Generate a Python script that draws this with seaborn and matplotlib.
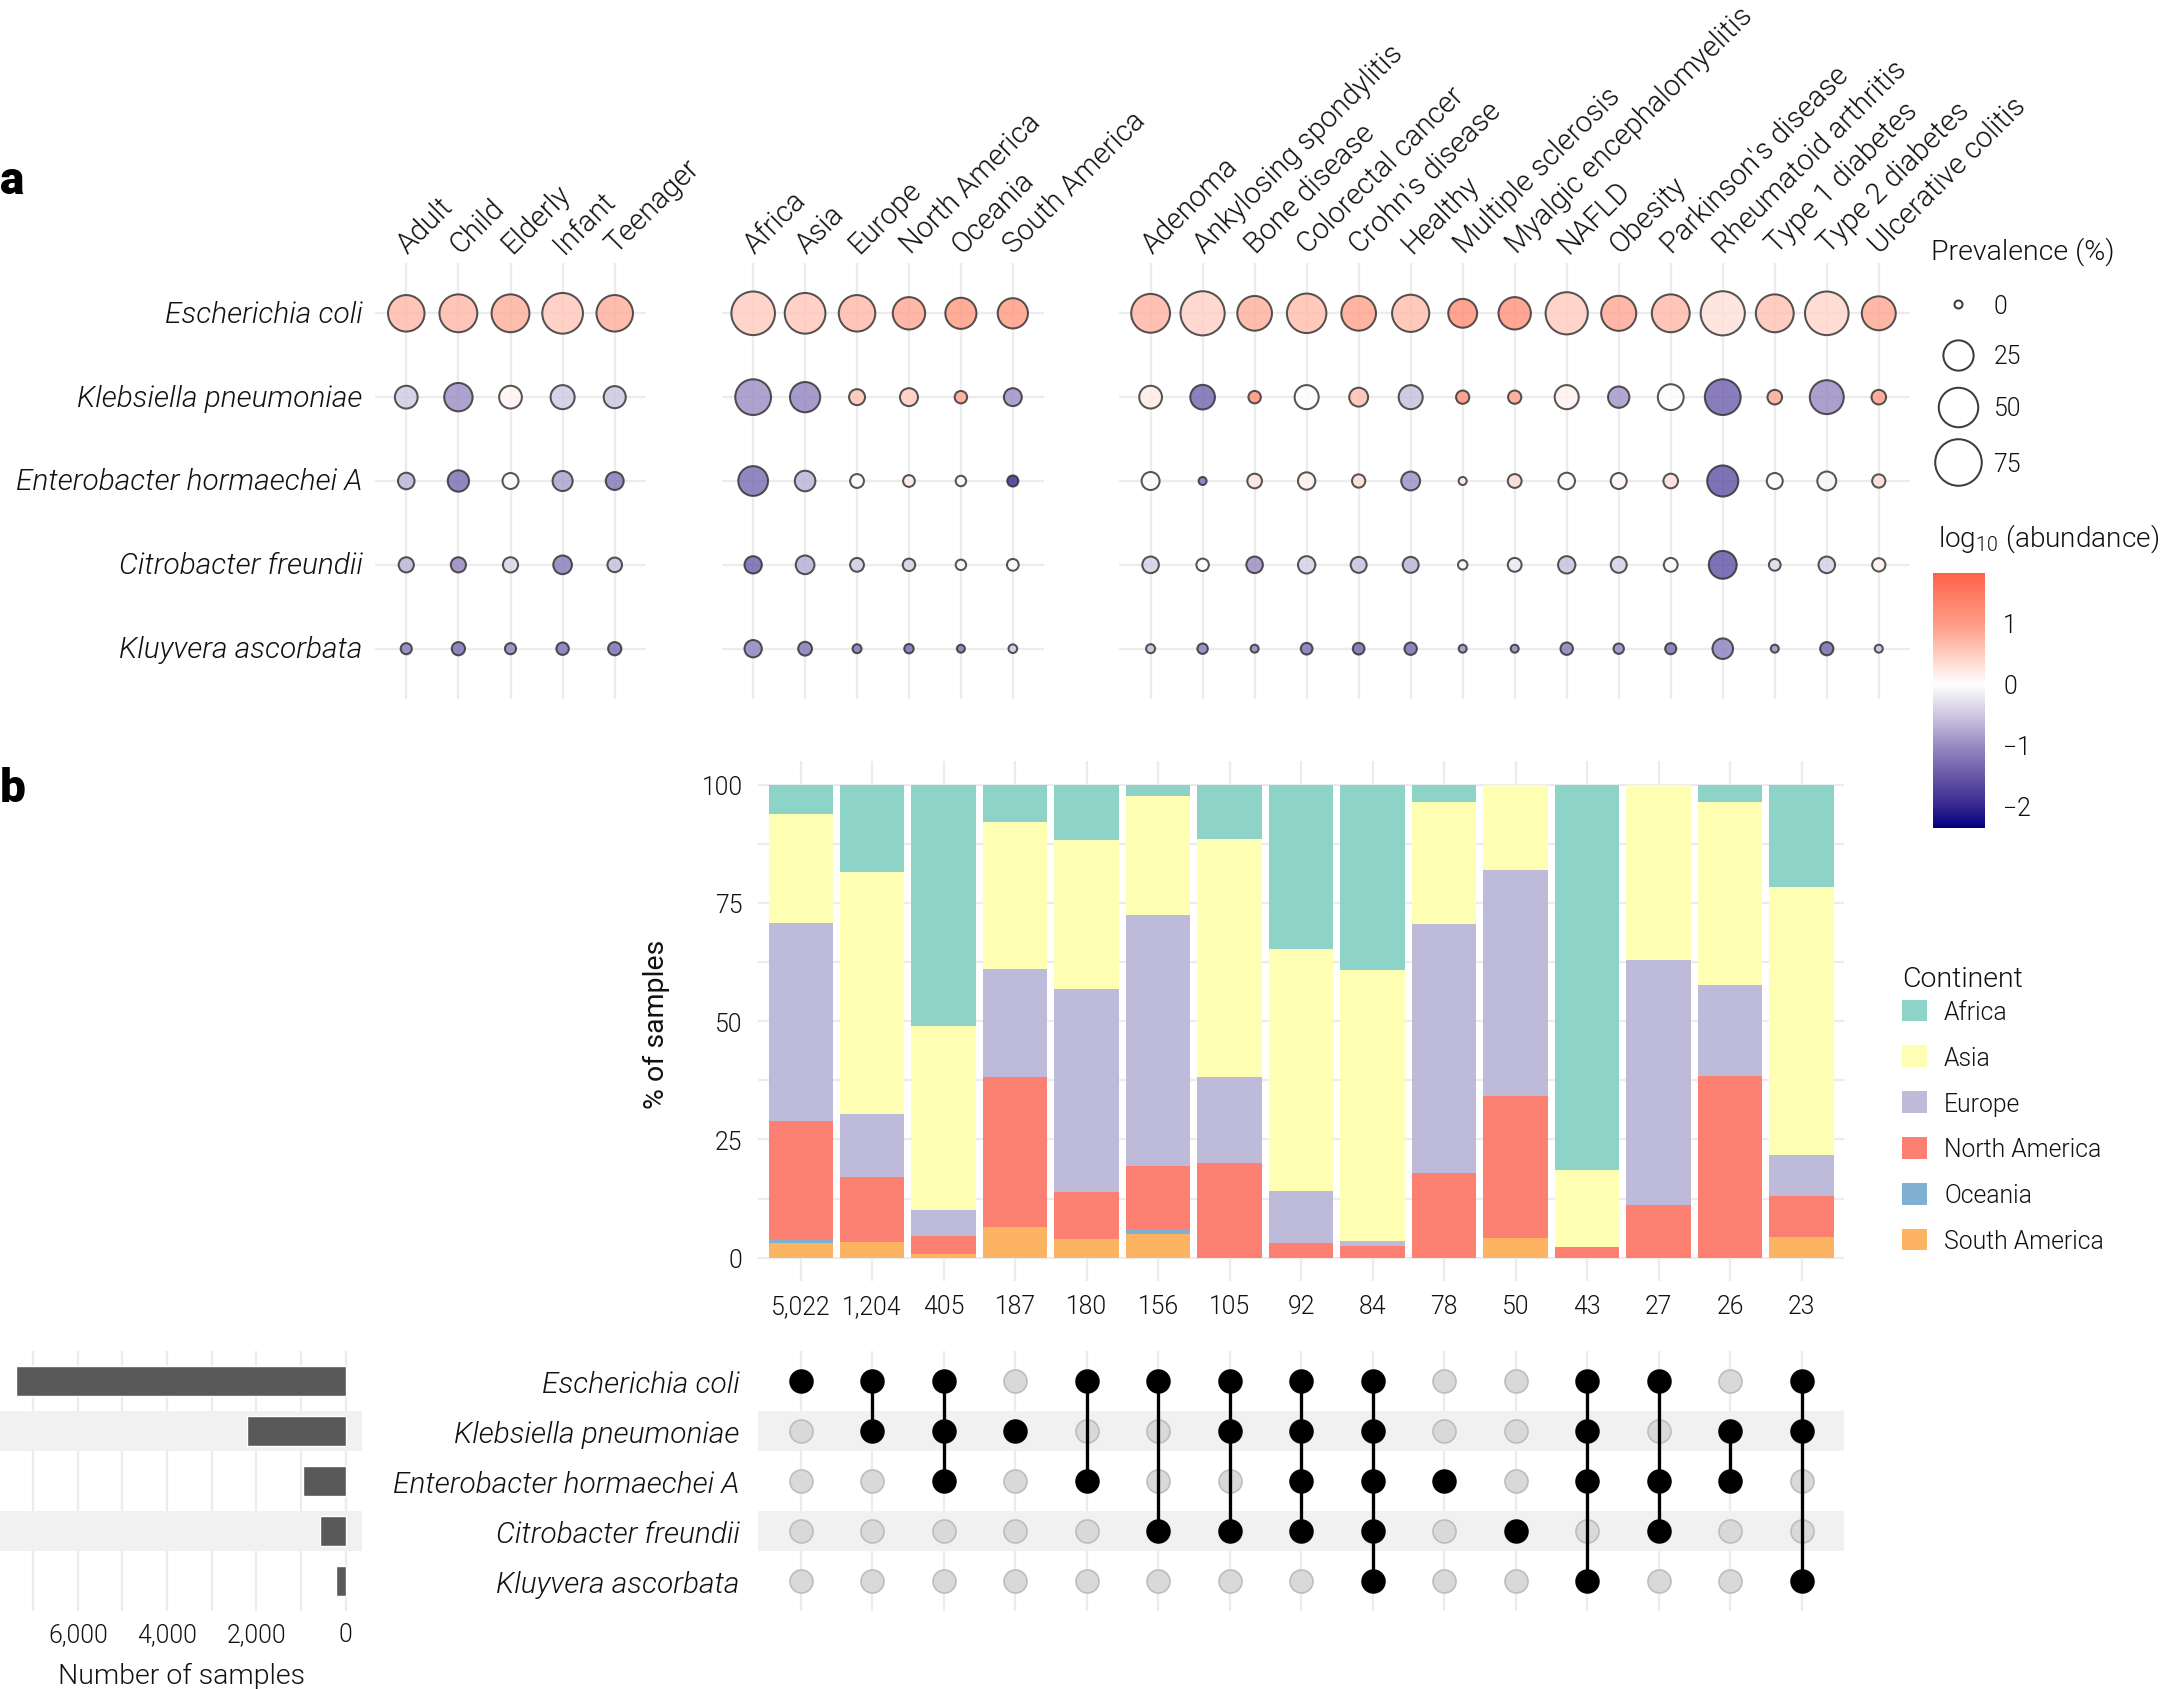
import numpy as np
import pandas as pd
import matplotlib
matplotlib.use("Agg")
import matplotlib.pyplot as plt
from matplotlib.colors import LinearSegmentedColormap, Normalize
from matplotlib.cm import ScalarMappable
from matplotlib.patches import Patch
from matplotlib.transforms import ScaledTranslation
import seaborn as sns

W, H = 2165, 1690
DPI = 100
PT = 72 / DPI

SPECIES = ["Escherichia coli", "Klebsiella pneumoniae", "Enterobacter hormaechei A",
           "Citrobacter freundii", "Kluyvera ascorbata"]
AGES = ["Adult", "Child", "Elderly", "Infant", "Teenager"]
CONTINENTS = ["Africa", "Asia", "Europe", "North America", "Oceania", "South America"]
DISEASES = ["Adenoma", "Ankylosing spondylitis", "Bone disease", "Colorectal cancer",
            "Crohn's disease", "Healthy", "Multiple sclerosis", "Myalgic encephalomyelitis",
            "NAFLD", "Obesity", "Parkinson's disease", "Rheumatoid arthritis",
            "Type 1 diabetes", "Type 2 diabetes", "Ulcerative colitis"]

PREV_AGE = [[41, 45, 45, 54, 41],
            [11, 21, 11, 13, 10],
            [3.7, 9, 3.2, 7.4, 5],
            [2.6, 2.6, 2.6, 5.8, 2.2],
            [0.5, 1.4, 0.5, 1, 1.4]]
LOG_AGE = [[0.7, 0.7, 0.8, 0.55, 0.8],
           [-0.5, -1.0, 0.1, -0.5, -0.55],
           [-0.7, -1.35, 0.05, -0.85, -1.25],
           [-0.7, -1.1, -0.4, -1.2, -0.6],
           [-1.2, -1.35, -1.15, -1.3, -1.35]]

PREV_CONT = [[64, 54, 41, 30, 27, 25],
             [39, 25, 3.2, 5, 1, 5],
             [24, 8, 1.7, 0.7, 0.3, 0.5],
             [4.4, 5.8, 1.7, 1, 0.3, 0.7],
             [4.4, 1.7, 0.05, 0.1, 0, 0.02]]
LOG_CONT = [[0.5, 0.55, 0.7, 0.85, 1.05, 1.05],
            [-1.0, -1.1, 0.6, 0.5, 0.9, -1.0],
            [-1.35, -0.7, 0.0, 0.2, -0.05, -2.0],
            [-1.45, -0.75, -0.5, -0.45, -0.1, -0.05],
            [-1.15, -1.25, -1.3, -1.35, -1.3, -0.5]]

PREV_DIS = [[48, 66, 36, 50, 36, 43, 22, 30, 59, 37, 45, 66, 45, 64, 34],
            [11, 14, 1, 13, 6, 13, 1.4, 1.4, 13, 9, 16, 39, 2.2, 34, 2.2],
            [5, 0, 2.2, 4.4, 1.4, 6, 0, 1.7, 3.7, 3.2, 2.2, 27, 3.2, 6, 1.4],
            [3.7, 1, 3.7, 4.4, 3.2, 3.2, 0.1, 1.7, 4.4, 3.2, 1.7, 20, 0.7, 3.7, 1.4],
            [0.05, 0.3, 0, 0.7, 0.7, 1, 0, 0, 1, 0.3, 0.5, 8, 0, 1.4, 0]]
LOG_DIS = [[0.75, 0.45, 0.8, 0.65, 0.9, 0.65, 1.2, 1.15, 0.5, 0.85, 0.7, 0.3, 0.6, 0.4, 0.85],
           [0.2, -1.4, 1.2, -0.03, 0.65, -0.6, 1.2, 0.9, 0.12, -0.95, -0.02, -1.45, 0.85, -1.05, 1.0],
           [0.05, -1.3, 0.25, 0.15, 0.35, -1.0, 0.2, 0.35, 0.03, 0.08, 0.3, -1.6, -0.03, -0.1, 0.35],
           [-0.45, -0.02, -1.05, -0.45, -0.6, -0.7, -0.05, -0.2, -0.6, -0.45, -0.05, -1.6, -0.35, -0.45, 0.1],
           [-0.6, -1.2, -1.1, -1.3, -1.4, -1.35, -1.0, -1.1, -1.2, -1.1, -1.35, -1.15, -1.0, -1.4, -0.6]]

LOG_STOPS = [-2.36, -2.0, -1.0, -0.5, 0.0, 0.9, 1.81]
LOG_COLORS = ["#000080", "#37278f", "#9a8cc4", "#cfc9e3", "#ffffff", "#ffa28c", "#ff6347"]
PREV_LEGEND = [0, 25, 50, 75]

SET_SIZES = ["5,022", "1,204", "405", "187", "180", "156", "105", "92", "84", "78", "50", "43", "27", "26", "23"]
PCT_AFRICA = [6.3, 18.5, 51.1, 7.9, 11.6, 2.5, 11.4, 34.7, 39.2, 3.7, 0, 81.4, 0, 3.7, 21.6]
PCT_ASIA = [23.0, 51.2, 38.9, 31.1, 31.7, 25.1, 50.5, 51.3, 57.2, 25.8, 18.0, 16.3, 37.1, 38.7, 56.7]
PCT_EUROPE = [41.9, 13.3, 5.4, 22.9, 42.8, 53.1, 18.1, 10.8, 1.2, 52.5, 47.9, 0, 51.7, 19.1, 8.7]
PCT_NAMERICA = [24.8, 13.7, 3.6, 31.6, 10.0, 13.4, 20.0, 3.2, 2.4, 18.0, 30.0, 2.3, 11.2, 38.5, 8.6]
PCT_OCEANIA = [0.9, 0, 0.3, 0, 0, 0.8, 0, 0, 0, 0, 0, 0, 0, 0, 0]
PCT_SAMERICA = [3.1, 3.3, 0.7, 6.5, 3.9, 5.1, 0, 0, 0, 0, 4.1, 0, 0, 0, 4.4]
CONT_COLORS = ["#8dd3c7", "#ffffb3", "#bebada", "#fb8072", "#80b1d3", "#fdb462"]

SPECIES_TOTALS = [7384, 2215, 956, 574, 215]
MEMBERSHIP = [[0], [0, 1], [0, 1, 2], [1], [0, 2], [0, 3], [0, 1, 3], [0, 1, 2, 3],
              [0, 1, 2, 3, 4], [2], [3], [0, 1, 2, 4], [0, 2, 3], [1, 2], [0, 1, 4]]

sns.set_theme(style="whitegrid", rc={"grid.color": "#ececec", "grid.linewidth": 1.6,
                                     "axes.edgecolor": "none", "axes.linewidth": 0})
FONT = "Roboto"
plt.rcParams["font.family"] = [FONT, "DejaVu Sans"]
plt.rcParams["font.weight"] = 300
plt.rcParams["mathtext.fontset"] = "custom"
plt.rcParams["mathtext.rm"] = FONT
plt.rcParams["mathtext.default"] = "regular"
TXT = "#111111"
FS_SPECIES = 21.5
FS_COLUMN = 20.9
FS_LABEL = 20.5
FS_TICK = 17.8

fig = plt.figure(figsize=(W / DPI, H / DPI), dpi=DPI, facecolor="white")


def box(x0, y0, x1, y1, **kw):
    return fig.add_axes([x0 / W, 1 - y1 / H, (x1 - x0) / W, (y1 - y0) / H], **kw)


def nudge(labels, dx_px, dy_px):
    off = ScaledTranslation(dx_px / DPI, -dy_px / DPI, fig.dpi_scale_trans)
    for t in labels:
        t.set_transform(t.get_transform() + off)


def diameter_px(p):
    return 10 + 4.45 * np.sqrt(np.asarray(p, float))


def marker_area(p):
    return ((diameter_px(p) - 2.0) * PT) ** 2


cmap = LinearSegmentedColormap.from_list(
    "abund", [((s - LOG_STOPS[0]) / (LOG_STOPS[-1] - LOG_STOPS[0]), c) for s, c in zip(LOG_STOPS, LOG_COLORS)])
norm = Normalize(LOG_STOPS[0], LOG_STOPS[-1])


def bubble_panel(ax, labels, prev, logs, show_y):
    n = len(labels)
    xx, yy = np.meshgrid(range(n), range(5))
    d = pd.DataFrame({"col": xx.ravel(), "row": yy.ravel(),
                      "prev": np.ravel(prev), "log": np.ravel(logs)})
    d["area"] = marker_area(d["prev"])
    lim = (marker_area(0), marker_area(100))
    sns.scatterplot(data=d, x="col", y="row", hue="log", hue_norm=norm, palette=cmap,
                    size="area", sizes=lim, size_norm=lim, alpha=0.8,
                    edgecolor="#2b2b2b", linewidth=1.45, legend=False, ax=ax, zorder=3, clip_on=False)
    ax.set_xlim(-0.6, n - 0.4)
    ax.set_ylim(4.6, -0.6)
    ax.set_xticks(range(n))
    ax.set_xticklabels(labels)
    ax.xaxis.tick_top()
    ax.tick_params(axis="x", length=0, pad=10, labelsize=FS_COLUMN, labelcolor=TXT)
    plt.setp(ax.get_xticklabels(), rotation=45, ha="left", va="center", rotation_mode="anchor")
    nudge(ax.get_xticklabels(), -4, -1)
    ax.set_yticks(range(5))
    if show_y:
        ax.set_yticklabels(SPECIES, style="italic", fontsize=FS_SPECIES, color=TXT)
        ax.tick_params(axis="y", length=0, pad=9)
        nudge(ax.get_yticklabels(), 0, -2.5)
    else:
        ax.set_yticklabels([])
        ax.tick_params(axis="y", length=0)
    ax.set_xlabel("")
    ax.set_ylabel("")
    ax.grid(True)
    ax.set_axisbelow(True)
    for s in ax.spines.values():
        s.set_visible(False)


bubble_panel(box(375, 264, 646, 700), AGES, PREV_AGE, LOG_AGE, True)
bubble_panel(box(722, 264, 1044, 700), CONTINENTS, PREV_CONT, LOG_CONT, False)
bubble_panel(box(1119.4, 264, 1910, 700), DISEASES, PREV_DIS, LOG_DIS, False)

# stacked bars
ax_bar = box(757.8, 762, 1844.4, 1282.3)
n_sets = len(SET_SIZES)
bars = pd.DataFrame({
    "set": np.tile(np.arange(n_sets), 6),
    "Continent": np.repeat(CONTINENTS, n_sets),
    "pct": np.concatenate([PCT_AFRICA, PCT_ASIA, PCT_EUROPE, PCT_NAMERICA, PCT_OCEANIA, PCT_SAMERICA]),
})
sns.histplot(data=bars, x="set", weights="pct", hue="Continent", hue_order=CONTINENTS,
             palette=CONT_COLORS, multiple="stack", discrete=True, shrink=0.9, alpha=1,
             linewidth=0, legend=False, ax=ax_bar)
ax_bar.set_xlim(-0.6, n_sets - 0.4)
ax_bar.set_ylim(-5, 105)
ax_bar.set_xticks(range(n_sets))
ax_bar.set_xticklabels(SET_SIZES, fontsize=FS_TICK, color=TXT)
ax_bar.set_yticks([0, 25, 50, 75, 100])
ax_bar.set_yticks([12.5, 37.5, 62.5, 87.5], minor=True)
ax_bar.tick_params(axis="y", which="major", length=0, pad=11, labelsize=FS_TICK, labelcolor=TXT)
ax_bar.tick_params(axis="y", which="minor", length=0)
ax_bar.tick_params(axis="x", length=0, pad=9)
ax_bar.grid(True, which="both")
ax_bar.set_axisbelow(True)
ax_bar.set_xlabel("")
ax_bar.set_ylabel("% of samples", fontsize=FS_LABEL, color=TXT)
ax_bar.yaxis.set_label_coords((670 - 757.8) / (1844.4 - 757.8), 0.496)

# set matrix
ax_mat = box(757.8, 1352, 1844.4, 1612)
cells = pd.DataFrame([{"set": c, "row": r, "on": r in MEMBERSHIP[c]}
                      for c in range(n_sets) for r in range(5)])
for r in (1, 3):
    ax_mat.axhspan(r - 0.4, r + 0.4, color="#f1f1f1", lw=0, zorder=1)
sns.scatterplot(data=cells[~cells["on"]], x="set", y="row", color="#d9d9d9", edgecolor="#bdbdbd",
                linewidth=1.2, s=(23 * PT) ** 2, legend=False, ax=ax_mat, zorder=2)
sns.lineplot(data=cells[cells["on"]], x="set", y="row", units="set", estimator=None, orient="y",
             color="black", linewidth=3.0 * PT * 1.1, legend=False, ax=ax_mat, zorder=3)
sns.scatterplot(data=cells[cells["on"]], x="set", y="row", color="black", edgecolor="black",
                linewidth=0, s=(24.5 * PT) ** 2, legend=False, ax=ax_mat, zorder=4)
ax_mat.set_xlim(-0.6, n_sets - 0.4)
ax_mat.set_ylim(4.6, -0.6)
ax_mat.set_xticks(range(n_sets))
ax_mat.set_xticklabels([])
ax_mat.set_yticks(range(5))
ax_mat.set_yticklabels(SPECIES, style="italic", fontsize=FS_SPECIES, color=TXT)
nudge(ax_mat.get_yticklabels(), 0, -2.5)
ax_mat.tick_params(axis="both", length=0)
ax_mat.tick_params(axis="y", pad=13)
ax_mat.grid(True, axis="x")
ax_mat.grid(False, axis="y")
ax_mat.set_axisbelow(True)
ax_mat.set_xlabel("")
ax_mat.set_ylabel("")

# species totals
ax_tot = box(0, 1352, 362, 1612)
for r in (1, 3):
    ax_tot.axhspan(r - 0.4, r + 0.4, color="#f1f1f1", lw=0, zorder=1)
sns.barplot(x=SPECIES_TOTALS, y=list(range(5)), orient="h", width=0.6, color="#595959",
            saturation=1, ax=ax_tot, zorder=3)
ax_tot.set_xlim(7742, -365)
ax_tot.set_ylim(4.6, -0.6)
ax_tot.set_xticks([0, 2000, 4000, 6000])
ax_tot.set_xticklabels(["0", "2,000", "4,000", "6,000"], fontsize=FS_TICK, color=TXT)
ax_tot.set_xticks([1000, 3000, 5000, 7000], minor=True)
ax_tot.tick_params(axis="x", which="both", length=0, pad=8)
ax_tot.set_yticks([])
ax_tot.grid(True, axis="x", which="both")
ax_tot.grid(False, axis="y")
ax_tot.set_axisbelow(True)
ax_tot.set_ylabel("")
ax_tot.set_xlabel("")

# overlay in pixel coordinates for the legends and panel letters
lax = box(0, 0, W, H)
lax.set_xlim(0, W)
lax.set_ylim(H, 0)
lax.axis("off")
lax.patch.set_alpha(0)
lax.text(0, 181, "a", fontsize=33, fontweight=900, color="black", va="center")
lax.text(0, 789, "b", fontsize=33, fontweight=900, color="black", va="center")
lax.text(181.8, 1676, "Number of samples", fontsize=FS_LABEL, color=TXT, ha="center", va="center")

lax.text(1931, 251.5, "Prevalence (%)", fontsize=FS_LABEL, color=TXT, va="center")
for lvl, y in zip(PREV_LEGEND, [305, 356, 407.5, 463]):
    lax.scatter([1957.5], [y], s=marker_area(lvl), facecolor="white", edgecolor="#3c3c3c", linewidth=1.45)
    lax.text(1993.5, y + 1.5, str(lvl), fontsize=FS_TICK, color=TXT, va="center")

lax.text(1938, 539, r"log$_{10}$ (abundance)", fontsize=20.2, color=TXT, va="center")
cax = box(1933, 574, 1985, 829)
cb = fig.colorbar(ScalarMappable(norm=norm, cmap=cmap), cax=cax, ticks=[-2, -1, 0, 1])
cb.outline.set_visible(False)
cb.ax.set_yticklabels(["\u22122", "\u22121", "0", "1"], fontsize=FS_TICK, color=TXT)
cb.ax.tick_params(axis="y", direction="in", color="white", width=1.2, length=8, left=True, right=True, pad=13)
cb.ax.grid(False)

leg = fig.legend(handles=[Patch(facecolor=c, edgecolor="none", label=l) for c, l in zip(CONT_COLORS, CONTINENTS)],
                 title="Continent", loc="upper left",
                 bbox_to_anchor=(1902 / W, 1 - 966 / H), frameon=False, fontsize=FS_TICK,
                 title_fontsize=FS_LABEL, handlelength=1.0, handleheight=0.97, labelspacing=0.87,
                 handletextpad=0.7, borderpad=0, borderaxespad=0)
leg._legend_box.align = "left"
leg._legend_box.sep = 5.5
for t in leg.get_texts():
    t.set_color(TXT)
leg.get_title().set_color(TXT)

fig.savefig("out.png", dpi=DPI, facecolor="white")
